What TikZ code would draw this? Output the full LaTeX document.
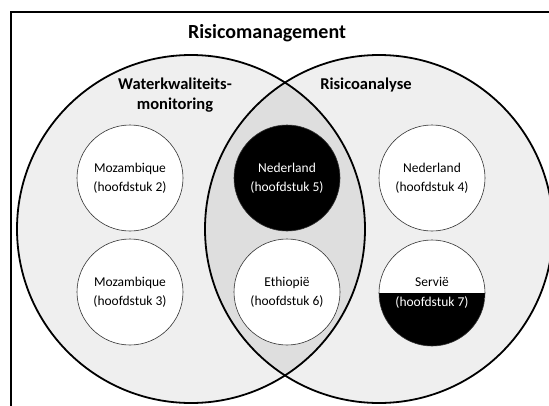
\documentclass[tikz,border=0pt]{standalone}
\usepackage{fontspec}
\setmainfont{Carlito}
\definecolor{setgray}{gray}{0.937}
\definecolor{capgray}{gray}{0.87}
\tikzset{
  bigset/.style={circle,draw,line width=1.8pt,minimum size=348pt,inner sep=0pt},
  study/.style={circle,draw=black!80,line width=0.6pt,fill=white,minimum size=106pt,inner sep=0pt,
    align=center,font=\fontsize{13.5}{19.5}\selectfont},
  setlabel/.style={align=center,font=\bfseries\fontsize{16.5}{20}\selectfont}
}

\begin{document}
\begin{tikzpicture}[x=1pt,y=-1pt]
\useasboundingbox (0,0) rectangle (549,405);
\clip (0,0) rectangle (549,405);
\draw[line width=2pt] (10.5,11.5) rectangle (570,430);
\fill[setgray] (191,229) circle[radius=174pt] (379,229) circle[radius=174pt];
\begin{scope}
\clip (191,229) circle[radius=174pt];
\fill[capgray] (379,229) circle[radius=174pt];
\end{scope}
\node[bigset] (wkm)at(191,229){};
\node[bigset] (ra)at(379,229){};
\node[font=\bfseries\fontsize{20}{24}\selectfont] (title)at(267,33){Risicomanagement};
\node[setlabel] (wkmlabel)at(175,95){Waterkwaliteits-\\monitoring};
\node[setlabel] (ralabel)at(366,85){Risicoanalyse};
\node[study] (moz2)at(130,178){Mozambique\\(hoofdstuk 2)};
\node[study] (moz3)at(130,292){Mozambique\\(hoofdstuk 3)};
\node[study,fill=black,text=white] (ned5)at(287,178){Nederland\\(hoofdstuk 5)};
\node[study] (eth6)at(287,292){Ethiopië\\(hoofdstuk 6)};
\node[study] (ned4)at(432,178){Nederland\\(hoofdstuk 4)};
\node[study,path picture={\fill[black] (path picture bounding box.west) rectangle (path picture bounding box.south east);}]
  (ser7)at(432,293){Servië\\\textcolor{white}{(hoofdstuk 7)}};
\end{tikzpicture}
\end{document}
